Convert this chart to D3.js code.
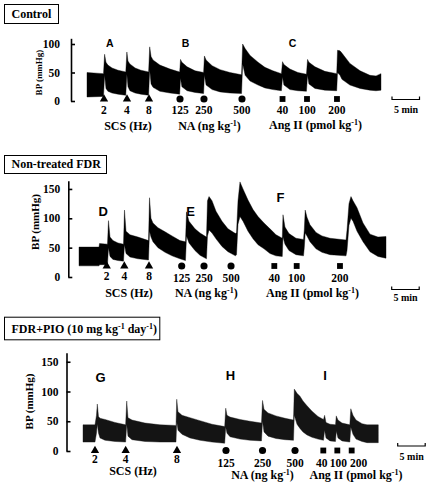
<!DOCTYPE html>
<html><head><meta charset="utf-8">
<script src="https://cdn.jsdelivr.net/npm/d3@7"></script>
<style>body{margin:0;background:#fff}svg{display:block}</style>
</head><body><svg id="c" width="429" height="485"></svg>
<script>
// ---------------- DATA ----------------
const panelTitles = ["Control", "Non-treated FDR", "FDR+PIO (10 mg kg^-1^ day^-1^)"];
const panelLetters = [["A","B","C"],["D","E","F"],["G","H","I"]];
const yTicks = [[0,50,100],[0,50,100,150],[0,50,100,150]];
const groupNames = ["SCS (Hz)", "NA (ng kg^-1^)", "Ang II (pmol kg^-1^)"];
const eventTypes = ["tri","tri","tri","circle","circle","circle","square","square","square"];
const eventLabels = ["2","4","8","125","250","500","40","100","200"];

// time in minutes from trace start; pressures in mmHg (upper = systolic envelope, lower = diastolic envelope)
const ctrlTime = [0,3.0,3.2,3.45,3.8,4.55,5.65,7.05,7.25,7.45,7.8,8.75,9.8,11.2,11.4,11.65,12.0,13.25,15.1,16.85,17.0,17.25,18.2,19.65,21.2,21.35,21.65,22.75,24.2,26.0,28.1,28.3,28.75,29.65,31.1,32.35,33.8,35.35,35.55,35.8,36.9,38.35,39.9,40.1,40.35,41.45,43.25,45.4,45.55,46.0,46.35,47.8,49.65,51.45,52.55,53.45];
const ctrlSys  = [50,48,82,68,63,58,54,51,86,70,65,58,54,51,95,78,72,63,56,51,73,68,60,53,50,79,72,62,55,50,46,100,92,80,68,59,53,48,69,64,56,50,47,73,68,60,52,48,89,88,84,66,53,45,44,48];
const ctrlDia  = [7,8,45,22,17,14,12,10,47,25,18,14,12,10,55,30,24,17,14,12,40,25,18,15,13,45,28,20,16,14,13,65,45,35,28,23,20,18,42,28,20,18,17,45,30,22,19,18,50,45,38,28,22,19,18,19];
const ctrlEventTimes = [3.09,7.27,11.27,16.91,21.27,28.18,35.55,40.0,45.45];

const fdrTime = [0,3.64,3.73,5.18,5.36,5.64,6.18,7.09,8.09,8.27,8.55,9.27,10.73,12.64,12.82,13.09,13.45,14.36,15.64,16.91,18.36,19.36,19.55,20.0,21.09,22.0,23.18,23.36,23.64,24.18,24.91,26.0,27.09,28.45,28.64,28.91,29.27,29.82,30.73,31.64,32.55,33.64,34.73,35.82,36.96,37.09,37.45,38.18,39.45,40.82,40.96,41.13,41.45,42.0,43.09,44.18,45.64,48.55,48.73,49.09,49.45,49.82,50.55,51.64,52.91,54.36,55.82];
const fdrSys  = [51,51,57,56,96,68,62,58,56,114,78,72,68,62,135,100,92,84,77,70,62,60,111,95,82,75,68,130,137,130,112,95,82,74,76,130,162,150,131,115,103,92,82,72,66,106,85,74,66,64,80,114,102,89,76,70,66,63,80,125,137,130,118,92,73,68,69];
const fdrDia  = [19,19,21,21,50,35,30,28,27,55,40,34,31,29,78,68,60,50,42,36,31,28,70,58,45,37,31,70,80,75,65,52,43,36,38,90,103,95,78,65,55,48,40,36,35,68,56,45,38,36,50,75,70,60,48,42,38,36,45,88,100,95,78,60,43,35,32];
const fdrEventTimes = [5.04,8.24,12.73,18.67,22.73,27.64,35.51,39.58,47.45];

const pioTime = [0,2.18,2.45,2.6,2.82,3.09,4.0,5.82,7.75,7.95,8.18,8.91,11.27,14.0,16.91,17.04,17.27,18.0,19.45,21.27,23.45,25.76,25.95,26.18,26.73,28.55,30.36,32.45,32.64,32.91,33.64,35.09,36.73,38.27,38.42,38.91,39.45,40.0,40.73,41.64,42.73,43.73,43.93,44.18,44.91,45.91,46.05,46.36,47.09,48.51,48.69,49.09,49.64,50.73,51.64,53.69];
const pioSys  = [44,44,60,79,58,55,53,48,44,84,56,52,47,44,43,87,66,60,56,51,45,41,72,60,57,53,50,47,85,70,64,59,55,52,104,97,92,84,76,67,58,53,60,48,45,44,59,52,47,44,71,60,52,46,44,44];
const pioDia  = [15,15,30,45,30,22,18,16,15,45,25,19,16,15,15,50,35,28,22,18,15,13,40,30,24,20,18,17,50,32,25,21,19,18,60,45,38,32,27,23,20,18,35,22,17,16,33,22,17,15,40,28,20,16,14,14];
const pioEventTimes = [2.18,7.76,17.09,26.0,32.64,38.55,43.69,46.24,48.85];

// ---------------- LAYOUT ----------------
const layouts = [
 {x0:87, yZero:101, k:0.57, yMax:110, axisX:71, tickPad:11, tickFont:11.5,
  box:[4,4,54,19], titleY:17.5, ylab:[38.5,72.5], ylabFont:9,
  markerY:99, numY:[113.5,113.5,113.5], groupY:[129.5,129.5,128.5], groupX:[128,209.5,315.5],
  letters:[[109.7,46.7],[185.5,46.7],[292.5,46.7]], letterFont:10.5,
  bar:[392,99.5], barText:[406,113], numShift:[0,0,0,0,0,0,0,0,0], fill:"#000"},
 {x0:79, yZero:277, k:0.587, yMax:164, axisX:68.3, tickPad:8, tickFont:11.5,
  box:[4,155,102,18], titleY:168, ylab:[35,222], ylabFont:11,
  markerY:266, numY:[280,282,281.5], groupY:[296.5,296.5,296.5], groupX:[129,206.3,312.5],
  letters:[[103.3,216],[190.5,216],[280.5,201.7]], letterFont:13,
  bar:[391.7,289.5], barText:[405.5,301], numShift:[0,0,0,0,0,0,0,0,0], fill:"#000"},
 {x0:83, yZero:451, k:0.595, yMax:165, axisX:66.5, tickPad:8, tickFont:11.5,
  box:[4,316.7,155.3,22.6], titleY:333, ylab:[29.5,401.5], ylabFont:11,
  markerY:450.5, numY:[463,466.5,466.5], groupY:[475,479,479], groupX:[133,262.5,356],
  letters:[[100.5,381.7],[230.5,380],[325,380]], letterFont:13,
  bar:[397.7,446], barText:[411.7,459.5], numShift:[0,0,0,0,0,0,-1.5,1,7], fill:"#141414"}
];

const PX_PER_MIN = 5.5;
const serif = '"Liberation Serif","Times New Roman",serif';
const sans = '"Liberation Sans",Arial,sans-serif';
const svg = d3.select("#c");
svg.append("rect").attr("width",429).attr("height",485).attr("fill","#fff");

function rich(sel, str, supSize, supDy){
  str.split("^").forEach((p,i)=>{
    if(!p) return;
    const t = sel.append("tspan").text(p);
    if(i%2){ t.attr("font-size",supSize).attr("dy",-supDy); }
    else if(i>0){ t.attr("dy",supDy); }
  });
}

const panels = [
 {time:ctrlTime, sys:ctrlSys, dia:ctrlDia, ev:ctrlEventTimes},
 {time:fdrTime, sys:fdrSys, dia:fdrDia, ev:fdrEventTimes},
 {time:pioTime, sys:pioSys, dia:pioDia, ev:pioEventTimes}
];
const symType = {tri:d3.symbolTriangle, circle:d3.symbolCircle, square:d3.symbolSquare};
const symSize = {tri:30, circle:40, square:34};
const grpIdx = {tri:0, circle:1, square:2};

panels.forEach((p,pi)=>{
  const L = layouts[pi];
  const g = svg.append("g");
  const x = d3.scaleLinear().domain([0,60]).range([L.x0, L.x0 + 60*PX_PER_MIN]);
  const y = d3.scaleLinear().domain([0,L.yMax]).range([L.yZero, L.yZero - L.yMax*L.k]);

  // trace band
  const pts = p.time.map((t,i)=>({t, s:p.sys[i], d:p.dia[i]}));
  g.append("path").datum(pts)
    .attr("d", d3.area().x(d=>x(d.t)).y0(d=>y(d.d)).y1(d=>y(d.s)))
    .attr("fill", L.fill).attr("stroke", L.fill).attr("stroke-width",0.4);

  // axis
  const ax = d3.axisLeft(y).tickValues(yTicks[pi]).tickSizeInner(-4).tickSizeOuter(0)
    .tickPadding(L.tickPad).tickFormat(d3.format("d"));
  const ag = g.append("g").attr("transform",`translate(${L.axisX},0)`).call(ax);
  ag.select(".domain").attr("stroke-width",1.6);
  ag.selectAll(".tick line").attr("stroke-width",1.6);
  ag.selectAll("text").attr("font-family",serif).attr("font-weight","bold")
    .attr("font-size",L.tickFont).attr("fill","#000");

  // y label
  g.append("text").attr("transform",`translate(${L.ylab[0]},${L.ylab[1]}) rotate(-90)`)
    .attr("text-anchor","middle").attr("dy","0.35em")
    .attr("font-family",serif).attr("font-weight","bold").attr("font-size",L.ylabFont)
    .text("BP (mmHg)");

  // title box
  g.append("rect").attr("x",L.box[0]+0.5).attr("y",L.box[1]+0.5).attr("width",L.box[2]).attr("height",L.box[3])
    .attr("fill","#fff").attr("stroke","#000").attr("stroke-width",1);
  const tt = g.append("text").attr("x",L.box[0]+7.5).attr("y",L.titleY)
    .attr("font-family",serif).attr("font-weight","bold").attr("font-size",12);
  rich(tt, panelTitles[pi], 8, 4);

  // markers + dose labels
  p.ev.forEach((t,i)=>{
    const ty = eventTypes[i];
    g.append("path").attr("d", d3.symbol(symType[ty], symSize[ty])())
      .attr("transform",`translate(${x(t)},${L.markerY})`).attr("fill","#000");
    g.append("text").attr("x", x(t) + L.numShift[i]).attr("y", L.numY[grpIdx[ty]])
      .attr("text-anchor","middle").attr("font-family",serif).attr("font-weight","bold")
      .attr("font-size",11.5).text(eventLabels[i]);
  });

  // group labels
  groupNames.forEach((name,i)=>{
    const gt = g.append("text").attr("x",L.groupX[i]).attr("y",L.groupY[i])
      .attr("text-anchor","middle").attr("font-family",serif).attr("font-weight","bold").attr("font-size",12);
    rich(gt, name, 8, 4);
  });

  // letters
  panelLetters[pi].forEach((c,i)=>{
    g.append("text").attr("x",L.letters[i][0]).attr("y",L.letters[i][1]).attr("text-anchor","middle")
      .attr("font-family",sans).attr("font-weight","bold").attr("font-size",L.letterFont).text(c);
  });

  // scale bar (5 min)
  const len = x(5) - x(0);
  const bx = L.bar[0], by = L.bar[1];
  g.append("path").attr("d",`M${bx},${by-3}V${by}H${bx+len}V${by-3}`)
    .attr("fill","none").attr("stroke","#000").attr("stroke-width",1.2);
  g.append("text").attr("x",L.barText[0]).attr("y",L.barText[1]).attr("text-anchor","middle")
    .attr("font-family",serif).attr("font-weight","bold").attr("font-size",10).text("5 min");
});
</script>
</body></html>
